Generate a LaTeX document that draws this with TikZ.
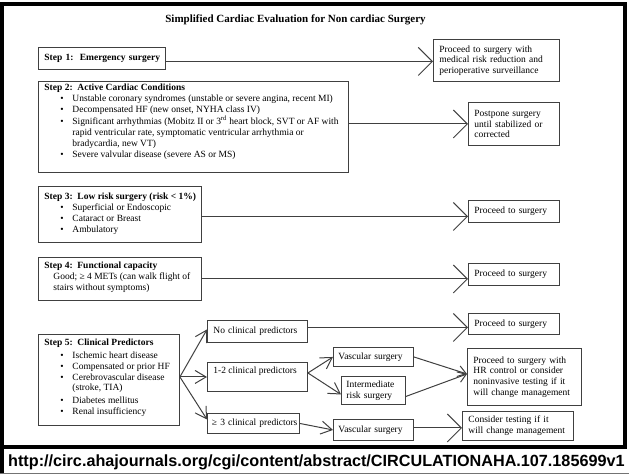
\documentclass[tikz,border=0pt]{standalone}
\usepackage{fontspec}
\setmainfont{Liberation Serif}
\newfontfamily\urlfont{Liberation Sans}
\usetikzlibrary{arrows.meta}
\newcommand{\bl}{\hspace*{16pt}\makebox[12pt][l]{\textbullet}}
\newcommand{\ind}{\hspace*{28pt}}
% #1 box width, #2 box height, #3 first baseline, #4 baselineskip, #5 content
\newcommand{\lbx}[5]{\parbox[c][#2pt][t]{\dimexpr#1pt-12pt\relax}{\fontsize{9.5}{#4}\selectfont\rule{0pt}{#3pt}#5}}
\tikzset{
  lbox/.style={draw=black!75, line width=0.9pt, fill=white, inner xsep=6pt, inner ysep=0pt, anchor=north west},
  rbox/.style={draw=black!75, line width=0.9pt, fill=white, inner xsep=6pt, inner ysep=0pt,
               align=left, anchor=north west, font=\fontsize{9.5}{10.6}\selectfont},
  conn/.style={draw=black!75, line width=1pt},
  big/.style={-{Straight Barb[length=14pt,width=28pt]}},
  small/.style={-{Straight Barb[length=11pt,width=13pt]}},
  med/.style={-{Straight Barb[length=8pt,width=11pt]}},
}
\begin{document}
\begin{tikzpicture}[x=1pt,y=-1pt]
\useasboundingbox (0,0) rectangle (629,474);
% frame
\draw[line width=3.5pt, line join=miter] (2,474) -- (2,4) -- (625,4) -- (625,447);
\draw[line width=4pt] (0,447) -- (627,447);
\draw[line width=0.8pt, black!55] (0,473) -- (629,473);

\node[anchor=base, inner sep=0pt] (title) at (295.5,22)
  {\fontsize{11}{13}\selectfont\bfseries Simplified Cardiac Evaluation for Non cardiac Surgery};

% step 1
\node[rbox, minimum height=22pt, text width=115pt] (s1) at (38,47)
  {\mbox{\textbf{Step 1:\ \ Emergency surgery}}};
\node[rbox, minimum height=42pt, text width=114pt] (p1) at (433,39)
  {Proceed to surgery with\\medical risk reduction and\\perioperative surveillance};

% step 2
\node[lbox] (s2) at (38,81) {\lbx{310}{91}{9}{11.2}{%
  \mbox{\textbf{Step 2:\ \ Active Cardiac Conditions}}\\
  \mbox{\bl Unstable coronary syndromes (unstable or severe angina, recent MI)}\\
  \mbox{\bl Decompensated HF (new onset, NYHA class IV)}\\
  \mbox{\bl Significant arrhythmias (Mobitz II or 3\textsuperscript{rd} heart block, SVT or AF with}\\
  \mbox{\ind rapid ventricular rate, symptomatic ventricular arrhythmia or}\\
  \mbox{\ind bradycardia, new VT)}\\
  \mbox{\bl Severe valvular disease (severe AS or MS)}}};
\node[rbox, minimum height=43pt, text width=79pt] (pp) at (468,102)
  {Postpone surgery\\until stabilized or\\corrected};

% step 3
\node[lbox] (s3) at (38,186) {\lbx{163}{56}{13.5}{10.7}{%
  \mbox{\textbf{Step 3:\ \ Low risk surgery (risk < 1\%)}}\\
  \mbox{\bl Superficial or Endoscopic}\\
  \mbox{\bl Cataract or Breast}\\
  \mbox{\bl Ambulatory}}};
\node[rbox, minimum height=22pt, text width=79pt] (p3) at (468,200) {Proceed to surgery};

% step 4
\node[lbox] (s4) at (38,257) {\lbx{163}{43}{11}{10.8}{%
  \mbox{\textbf{Step 4:\ \ Functional capacity}}\\
  \mbox{\hspace*{9pt}Good; ≥ 4 METs (can walk flight of}\\
  \mbox{\hspace*{9pt}stairs without symptoms)}}};
\node[rbox, minimum height=22pt, text width=79pt] (p4) at (468,263) {Proceed to surgery};

% step 5
\node[lbox] (s5) at (38,334) {\lbx{141}{91}{11}{10.2}{%
  \mbox{\textbf{Step 5:\ \ Clinical Predictors}}\\[2.8pt]
  \mbox{\bl Ischemic heart disease}\\[1.3pt]
  \mbox{\bl Compensated or prior HF}\\[0.3pt]
  \mbox{\bl Cerebrovascular disease}\\
  \mbox{\ind (stroke, TIA)}\\[2.3pt]
  \mbox{\bl Diabetes mellitus}\\[1.3pt]
  \mbox{\bl Renal insufficiency}}};

\node[rbox, minimum height=22pt, text width=88pt] (nc) at (207,320) {No clinical predictors};
\node[lbox] (t12) at (207,362) {\lbx{100}{29}{11.5}{10.8}{\mbox{1-2 clinical predictors}}};
\node[rbox, inner xsep=4.5pt, minimum height=20pt, text width=83pt] (g3) at (207,413) {\mbox{≥ 3 clinical predictors}};

\node[rbox, minimum height=21pt, text width=79pt] (pn) at (468,313) {Proceed to surgery};
\node[rbox, inner xsep=5pt, minimum height=19pt, text width=70pt] (v1) at (333,347) {Vascular surgery};
\node[rbox, inner xsep=5pt, minimum height=28pt, text width=54pt] (im) at (341,376) {Intermediate\\risk surgery};
\node[rbox, minimum height=57pt, text width=102pt] (hr) at (467,348)
  {Proceed to surgery with\\HR control or consider\\noninvasive testing if it\\will change management};
\node[rbox, inner xsep=5pt, minimum height=21pt, text width=70pt] (v2) at (333,419) {Vascular surgery};
\node[rbox, minimum height=29pt, text width=99pt] (ct) at (462,411)
  {Consider testing if it\\will change management};

% connectors
\draw[conn,big] ([yshift=-3pt]s1.east) -- ([yshift=-3pt]s1.east -| p1.west);
\draw[conn,big] (pp.west -| s2.east) -- (pp.west);
\draw[conn,big] ([yshift=-2pt]s3.east) -- ([yshift=-2pt]s3.east -| p3.west);
\draw[conn,big] (s4.east) -- (s4.east -| p4.west);
\coordinate (f5) at ([yshift=3pt]s5.east);
\draw[conn,small] (f5) -- ([yshift=2pt]nc.west);
\draw[conn,small] (f5) -- (f5 -| t12.west);
\draw[conn,small] (f5) -- ([yshift=4pt]g3.west);
\draw[conn,big] ([yshift=4pt]nc.east) -- ([yshift=4pt]nc.east -| pn.west);
\coordinate (f12) at ([yshift=4pt]t12.east);
\draw[conn,small] (f12) -- (v1.west);
\draw[conn,small] (f12) -- ([yshift=-4pt]im.west);
\draw[conn,med] (v1.east) -- ([yshift=3pt]hr.west);
\draw[conn,med] ([yshift=-6pt]im.east) -- ([yshift=3pt]hr.west);
\draw[conn,small] (g3.east) -- (v2.west);
\draw[conn,big] ([yshift=2pt]v2.east) -- ([yshift=2pt]v2.east -| ct.west);

\node[anchor=base west, inner sep=0pt] (url) at (8,466)
  {\urlfont\bfseries\fontsize{16.2}{18}\selectfont http://circ.ahajournals.org/cgi/content/abstract/CIRCULATIONAHA.107.185699v1};
\end{tikzpicture}
\end{document}
